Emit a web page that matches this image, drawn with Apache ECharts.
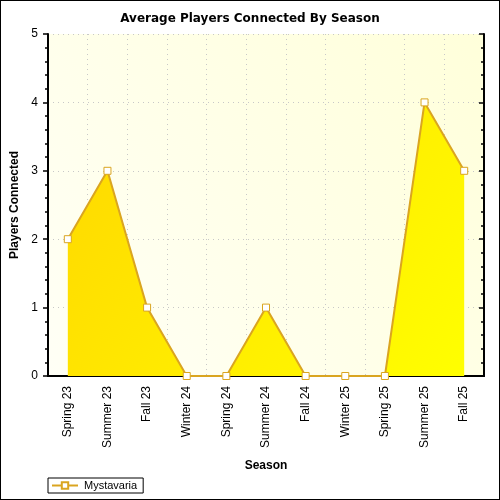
<!DOCTYPE html>
<html>
<head>
<meta charset="utf-8">
<script src="https://cdn.jsdelivr.net/npm/echarts@6/dist/echarts.min.js"></script>
<style>
html,body{margin:0;padding:0;background:#fff;}
#c{width:498px;height:498px;border:1px solid #000;}
</style>
</head>
<body>
<div id="c"></div>
<script>
var categories = ['Spring 23','Summer 23','Fall 23','Winter 24','Spring 24','Summer 24','Fall 24','Winter 25','Spring 25','Summer 25','Fall 25'];
var playersConnected = [2, 3, 1, 0, 0, 1, 0, 0, 0, 4, 3];
var seriesName = 'Mystavaria';
var chartTitle = 'Average Players Connected By Season';
var yAxisTitle = 'Players Connected';
var xAxisTitle = 'Season';

var FONT = '"Liberation Sans", Arial, sans-serif';
var chart = echarts.init(document.getElementById('c'));
var G = echarts.graphic;
chart.setOption({
  animation: false,
  title: {
    text: chartTitle, left: 'center', top: 7,
    textStyle: {fontFamily: 'DejaVu Sans', fontWeight: 'bold', fontSize: 12, color: '#000'}
  },
  legend: {
    left: 47, bottom: 6, itemWidth: 26, itemHeight: 8, itemGap: 4,
    padding: [2, 6, 2, 3],
    borderColor: '#000', borderWidth: 1, backgroundColor: '#fff',
    textStyle: {fontFamily: FONT, fontSize: 11, color: '#000', padding: [0, 0, 0, 1]},
    data: [{name: seriesName}]
  },
  grid: {
    left: 47, right: 15, top: 33, bottom: 123, show: true,
    containLabel: false, outerBoundsMode: 'none',
    borderWidth: 0,
    backgroundColor: new G.LinearGradient(1, 0, 0, 1, [
      {offset: 0, color: '#FFFFDA'}, {offset: 1, color: '#FFFFF6'}
    ])
  },
  xAxis: [{
    type: 'category', data: categories, boundaryGap: true,
    name: xAxisTitle, nameLocation: 'middle', nameGap: 84,
    nameTextStyle: {fontFamily: FONT, fontWeight: 'bold', fontSize: 12, color: '#000'},
    axisLine: {lineStyle: {color: '#000', width: 2}},
    axisTick: {alignWithLabel: true, length: 6, lineStyle: {color: '#000', width: 1.5}},
    axisLabel: {rotate: 90, margin: 10, fontFamily: FONT, fontSize: 12, color: '#000'},
    splitLine: {show: true, interval: 0, lineStyle: {color: '#C8C8C8', type: [1, 4]}}
  }, {
    type: 'category', data: categories, boundaryGap: true, position: 'top',
    axisLine: {lineStyle: {color: '#000', width: 2}},
    axisTick: {alignWithLabel: true, inside: true, length: 5, lineStyle: {color: '#000', width: 1.5}},
    axisLabel: {show: false}, splitLine: {show: false}
  }],
  yAxis: [{
    type: 'value', min: 0, max: 5, interval: 1,
    name: yAxisTitle, nameLocation: 'middle', nameGap: 25,
    nameTextStyle: {fontFamily: FONT, fontWeight: 'bold', fontSize: 12, color: '#000'},
    axisLine: {show: true, lineStyle: {color: '#000', width: 2}},
    axisTick: {show: true, length: 5, lineStyle: {color: '#000', width: 1.5}},
    minorTick: {show: true, splitNumber: 5, length: 3, lineStyle: {color: '#000', width: 1.5}},
    axisLabel: {margin: 10, fontFamily: FONT, fontSize: 12, color: '#000'},
    splitLine: {show: true, lineStyle: {color: '#C8C8C8', type: [1, 4]}}
  }, {
    type: 'value', min: 0, max: 5, interval: 1, position: 'right',
    axisLine: {show: true, lineStyle: {color: '#000', width: 2}},
    axisTick: {show: true, inside: true, length: 5, lineStyle: {color: '#000', width: 1.5}},
    minorTick: {show: true, splitNumber: 5, length: 3, lineStyle: {color: '#000', width: 1.5}},
    axisLabel: {show: false}, splitLine: {show: false}
  }],
  series: [{
    name: seriesName, type: 'line', data: playersConnected,
    symbol: 'rect', symbolSize: 7,
    itemStyle: {color: '#fff', borderColor: '#DAA520', borderWidth: 1},
    lineStyle: {color: '#DAA520', width: 2},
    areaStyle: {
      opacity: 1,
      color: new G.LinearGradient(0, 0, 1, 1, [
        {offset: 0, color: '#FFD700'}, {offset: 1, color: '#FFFF00'}
      ])
    },
    z: 3
  }]
});
</script>
</body>
</html>
